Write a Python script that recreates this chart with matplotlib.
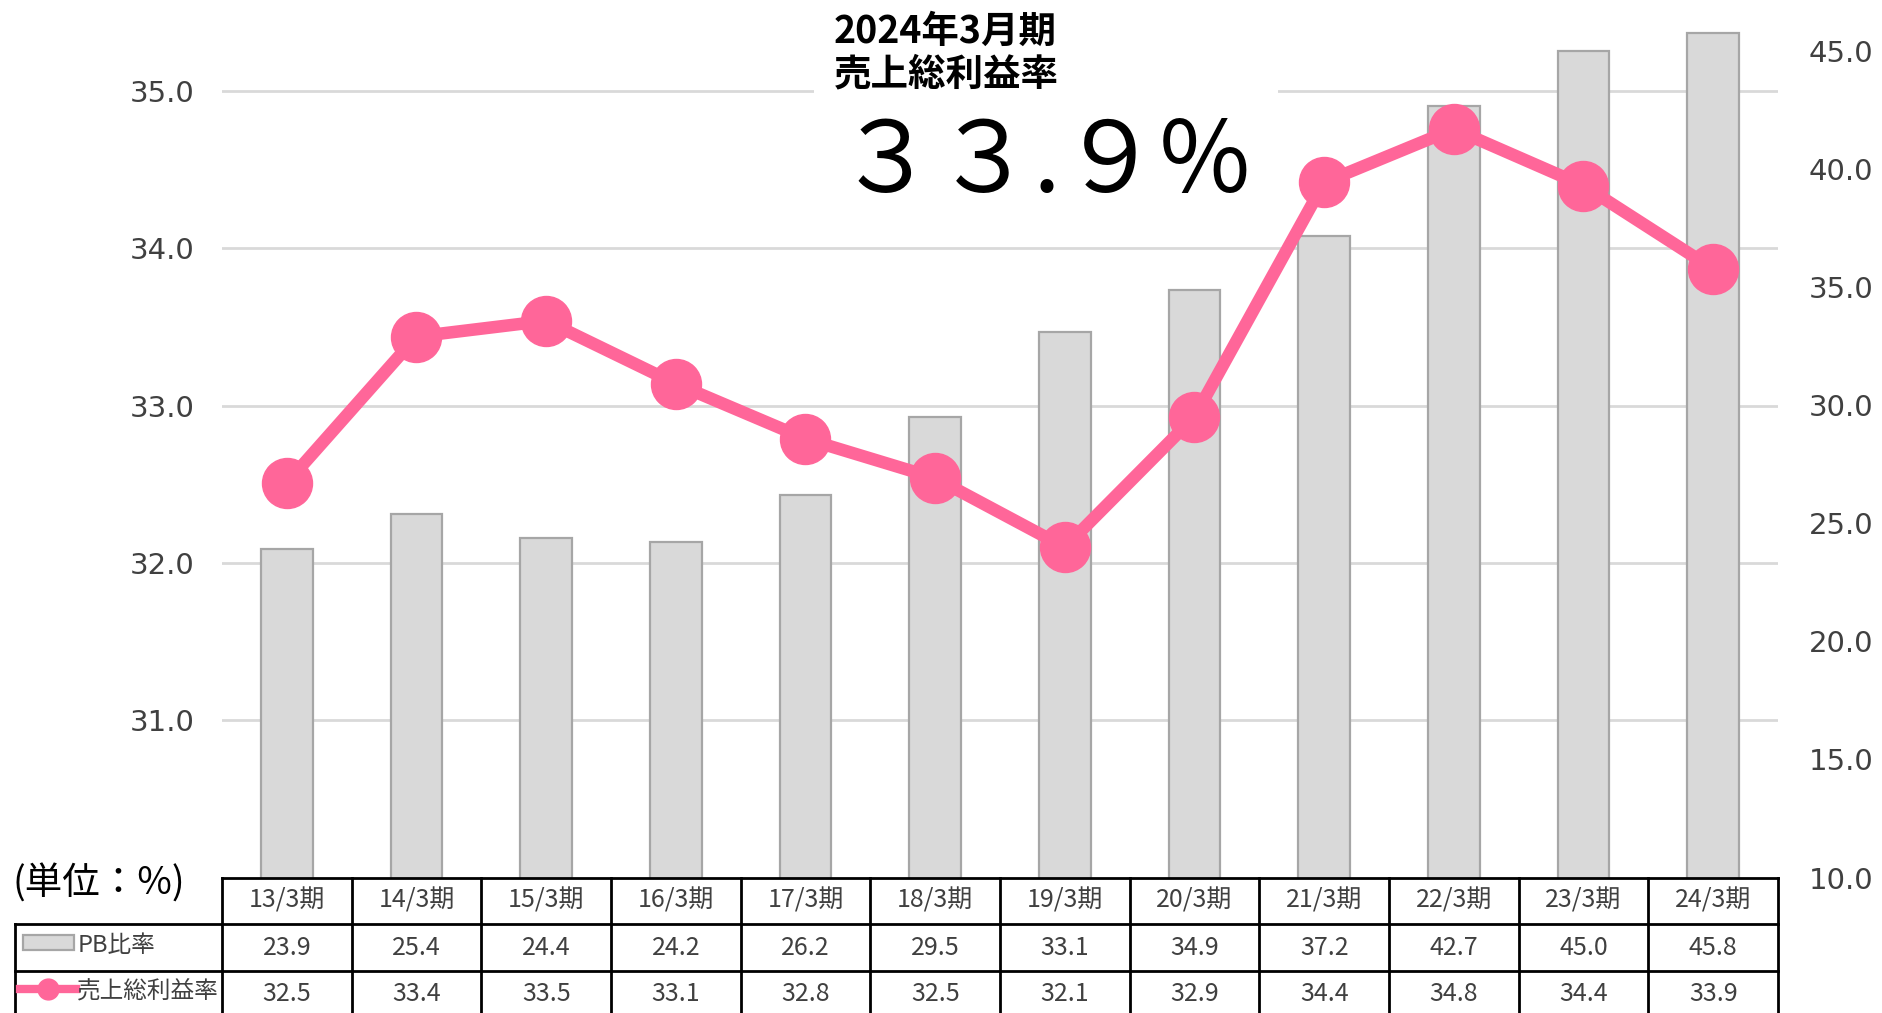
import numpy as np
import matplotlib
matplotlib.use("Agg")
import matplotlib.pyplot as plt
from matplotlib.lines import Line2D
from matplotlib.patches import Rectangle
from matplotlib.transforms import blended_transform_factory

# --- data ---
periods = ["13/3期", "14/3期", "15/3期", "16/3期", "17/3期", "18/3期",
           "19/3期", "20/3期", "21/3期", "22/3期", "23/3期", "24/3期"]
pb_ratio = [23.9, 25.4, 24.4, 24.2, 26.2, 29.5, 33.1, 34.9, 37.2, 42.7, 45.0, 45.8]
gross_margin = [32.51, 33.44, 33.54, 33.14, 32.79, 32.54, 32.10, 32.93,
                34.42, 34.76, 34.40, 33.87]
left_ticks = [31.0, 32.0, 33.0, 34.0, 35.0]
right_ticks = [10.0, 15.0, 20.0, 25.0, 30.0, 35.0, 40.0, 45.0]

title_lines = ["2024年3月期", "売上総利益率"]
headline = "３３.９%"
unit_label = "(単位：%)"
row_labels = ["PB比率", "売上総利益率"]

# --- styling ---
CJK = ["Noto Sans CJK JP", "DejaVu Sans"]
BAR_FACE = "#d9d9d9"
BAR_EDGE = "#a6a6a6"
PINK = "#ff6699"
GRID = "#d9d9d9"
TEXT = "#404040"

W, H = 1882, 1013


def fx(px):
    return px / W


def fy(py):
    return 1 - py / H


fig = plt.figure(figsize=(W / 100, H / 100), dpi=100)
fig.patch.set_facecolor("white")

ax_left, ax_right, ax_bottom = 222, 1778, 877.5
rect = [fx(ax_left), fy(ax_bottom), fx(ax_right - ax_left), ax_bottom / H]

x = np.arange(len(periods))

# bars on the lower axes (right-hand scale)
ax = fig.add_axes(rect)
ax_l = ax.twinx()   # line axes, drawn on top

ax.bar(x, pb_ratio, width=0.4, color=BAR_FACE, edgecolor=BAR_EDGE,
       linewidth=1.6, zorder=2)
ax.set_xlim(-0.5, len(periods) - 0.5)
ax.yaxis.tick_right()
ax.set_yticks(right_ticks)
ax.set_yticklabels([f"{v:.1f}" for v in right_ticks])
ax.tick_params(axis="y", length=0, pad=22, labelsize=21, labelcolor=TEXT)
ax.set_xticks([])
for s in ax.spines.values():
    s.set_visible(False)

# line on upper axes (left-hand scale)
ax_l.yaxis.tick_left()
ax_l.set_ylim(30, 35.58)
ax_l.set_yticks(left_ticks)
ax_l.set_yticklabels([f"{v:.1f}" for v in left_ticks])
ax_l.tick_params(axis="y", length=0, pad=20, labelsize=21, labelcolor=TEXT)
for s in ax_l.spines.values():
    s.set_visible(False)
ax_l.patch.set_visible(False)
ax_l.plot(x, gross_margin, color=PINK, linewidth=9, marker="o",
          markersize=36, zorder=3, clip_on=False)

# gridlines follow the left scale but sit behind the bars
grid_tr = blended_transform_factory(ax.transAxes, ax_l.transData)
for v in left_ticks:
    ax.plot([0, 1], [v, v], transform=grid_tr, color=GRID, linewidth=2,
            zorder=0.5)
ax.set_ylim(10, 47.18)

# white box behind the headline text
ax.add_patch(Rectangle((fx(814), fy(118)), fx(1278 - 814), 118 / H,
                       transform=fig.transFigure, facecolor="white",
                       edgecolor="none", zorder=1))

# headline
fig.text(fx(834), fy(31), title_lines[0], family=CJK, fontsize=27,
         fontweight="bold", va="center", ha="left", color="black")
fig.text(fx(834), fy(74), title_lines[1], family=CJK, fontsize=27,
         fontweight="bold", va="center", ha="left", color="black")
fig.text(fx(836), fy(192), headline, family=CJK, fontsize=71,
         va="baseline", ha="left", color="black")

# unit label
fig.text(fx(12), fy(884), unit_label, family=CJK, fontsize=27,
         va="center", ha="left", color="black")

# --- data table under the plot ---
col_tr = blended_transform_factory(ax.transData, fig.transFigure)
row_top, row1, row2, row_end = 877.5, 924, 971, 1020
legend_left = 15
lw = 2.0
TFS = 18

# horizontal rules
fig.add_artist(Line2D([fx(ax_left), fx(ax_right)], [fy(row_top)] * 2,
                      color="black", linewidth=lw))
for yy in (row1, row2):
    fig.add_artist(Line2D([fx(legend_left), fx(ax_right)], [fy(yy)] * 2,
                          color="black", linewidth=lw))
# vertical rules
for b in np.arange(len(periods) + 1) - 0.5:
    fig.add_artist(Line2D([b, b], [fy(row_top), fy(row_end)],
                          transform=col_tr, color="black", linewidth=lw))
fig.add_artist(Line2D([fx(legend_left)] * 2, [fy(row1), fy(row_end)],
                      color="black", linewidth=lw))

# cell texts
for i, p in enumerate(periods):
    fig.text(i, fy((row_top + row1) / 2), p, transform=col_tr, family=CJK,
             fontsize=TFS, ha="center", va="center", color=TEXT)
    fig.text(i, fy((row1 + row2) / 2), f"{pb_ratio[i]:.1f}", transform=col_tr,
             family=CJK, fontsize=TFS, ha="center", va="center", color=TEXT)
    fig.text(i, fy(row2 + 23), f"{gross_margin[i]:.1f}", transform=col_tr,
             family=CJK, fontsize=TFS, ha="center", va="center", color=TEXT)

# legend keys inside the table
fig.add_artist(Rectangle((fx(23), fy(950)), fx(51), 15 / H,
                         facecolor=BAR_FACE, edgecolor=BAR_EDGE, linewidth=1.6))
fig.add_artist(Line2D([fx(20), fx(76)], [fy(989)] * 2, color=PINK,
                      linewidth=6))
fig.add_artist(Line2D([fx(48)], [fy(989)], color=PINK, marker="o",
                      markersize=15, linewidth=0))
fig.text(fx(78), fy(946), row_labels[0], family=CJK, fontsize=17,
         ha="left", va="center", color=TEXT)
fig.text(fx(77), fy(991), row_labels[1], family=CJK, fontsize=17,
         ha="left", va="center", color=TEXT)

fig.savefig("out.png", dpi=100)
